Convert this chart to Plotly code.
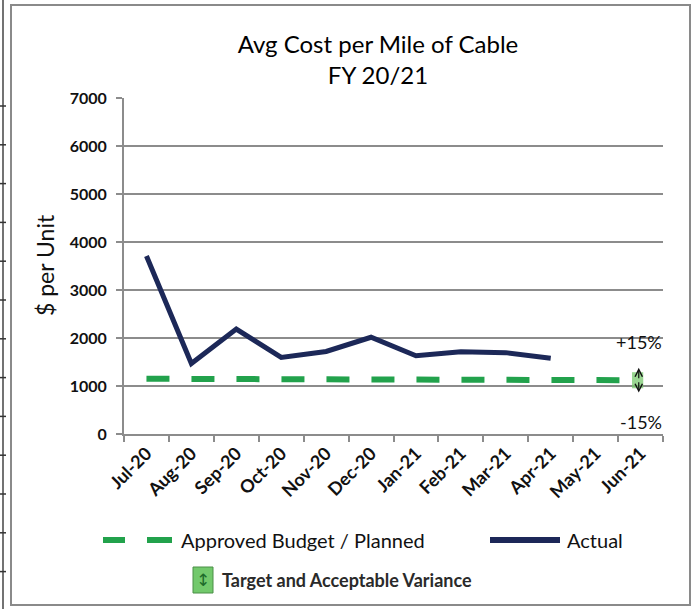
import plotly.graph_objects as go

# ---- data ----
months = ["Jul-20", "Aug-20", "Sep-20", "Oct-20", "Nov-20", "Dec-20",
          "Jan-21", "Feb-21", "Mar-21", "Apr-21", "May-21", "Jun-21"]
actual = [3710, 1470, 2185, 1595, 1720, 2015, 1630, 1715, 1695, 1580, None, None]
budget = [1150, 1150, 1150, 1145, 1145, 1140, 1140, 1135, 1130, 1125, 1120, 1120]
variance_pct = 0.15
y_ticks = [0, 1000, 2000, 3000, 4000, 5000, 6000, 7000]

GREEN = "#22a24c"
NAVY = "#1c2858"
GRID = "#8c8c8c"
FONT = "Lato"

W, H = 695, 609
L, R, T, B = 124, 32, 98, 175
PW, PH = W - L - R, H - T - B


def px(X):
    return (X - L) / PW


def py(Y):
    return (H - B - Y) / PH


def label(X, Y, text, size, xanchor="left", family=FONT, color="#111", angle=0):
    return dict(xref="paper", yref="paper", x=px(X), y=py(Y), text=text,
                showarrow=False, xanchor=xanchor, yanchor="middle",
                textangle=angle, font=dict(family=family, size=size, color=color))


fig = go.Figure()

fig.add_trace(go.Scatter(
    x=months, y=budget, mode="lines",
    line=dict(color=GREEN, width=6, dash="23px,22px"),
    name="Approved Budget / Planned", showlegend=False))

fig.add_trace(go.Scatter(
    x=months, y=actual, mode="lines",
    line=dict(color=NAVY, width=5),
    name="Actual", showlegend=False))

shapes = []
annotations = []

# target band (+/- 15%) at the last month
last = len(months) - 1
b_last = budget[last]
shapes.append(dict(type="rect", xref="x", yref="y",
                   x0=last - 0.19, x1=last + 0.06,
                   y0=b_last * (1 - variance_pct), y1=b_last * (1 + variance_pct),
                   fillcolor="rgba(120,200,110,0.75)", line=dict(width=0)))
for end in (b_last * (1 + variance_pct) + 90, b_last * (1 - variance_pct) - 90):
    annotations.append(dict(x=last - 0.04, y=end, xref="x", yref="y",
                            ax=last - 0.04, ay=b_last, axref="x", ayref="y",
                            text=" ", font=dict(size=1), showarrow=True,
                            arrowhead=5, arrowsize=1.2, arrowwidth=1.2,
                            arrowcolor="#111", standoff=0, startstandoff=0))

annotations.append(label(664, 342, "+15%", 18, xanchor="right"))
annotations.append(label(664, 422, "-15%", 18, xanchor="right"))

# y-axis title
annotations.append(label(45, 265, "$ per Unit", 23, xanchor="center", angle=-90))

# legend
shapes += [
    dict(type="line", xref="paper", yref="paper", x0=px(103), x1=px(125),
         y0=py(540), y1=py(540), line=dict(color=GREEN, width=6)),
    dict(type="line", xref="paper", yref="paper", x0=px(147), x1=px(172),
         y0=py(540), y1=py(540), line=dict(color=GREEN, width=6)),
    dict(type="line", xref="paper", yref="paper", x0=px(490), x1=px(560),
         y0=py(540), y1=py(540), line=dict(color=NAVY, width=6)),
    dict(type="rect", xref="paper", yref="paper", x0=px(193), x1=px(213),
         y0=py(593), y1=py(567), fillcolor="#72c96c",
         line=dict(color="#4a8f46", width=1)),
]
annotations += [
    label(179, 540, "Approved Budget / Planned", 20),
    label(565, 540, "Actual", 20),
    label(203, 580, "↕", 17, xanchor="center", family="DejaVu Sans", color="#1d6b2a"),
    label(220, 580, "<b>Target and Acceptable Variance</b>", 18, color="#2a2a2a"),
]

# outer frame and the neighbouring table edge
shapes.append(dict(type="rect", xref="paper", yref="paper",
                   x0=px(11), x1=px(690), y0=py(605), y1=py(5),
                   line=dict(color="#8a8a8a", width=2), layer="below"))
shapes.append(dict(type="line", xref="paper", yref="paper",
                   x0=px(3), x1=px(3), y0=py(609), y1=py(0),
                   line=dict(color="#444", width=1.5)))
for k in range(13):
    yy = 106 + 38.8 * k
    shapes.append(dict(type="line", xref="paper", yref="paper",
                       x0=px(0), x1=px(6), y0=py(yy), y1=py(yy),
                       line=dict(color="#333", width=1.5)))

fig.update_layout(
    width=W, height=H,
    margin=dict(l=L, r=R, t=T, b=B),
    paper_bgcolor="white", plot_bgcolor="white",
    title=dict(text="Avg Cost per Mile of Cable<br>FY 20/21",
               x=378 / W, xanchor="center", y=1 - 53 / H, yanchor="middle",
               font=dict(family=FONT, size=24, color="#000")),
    shapes=shapes, annotations=annotations,
    showlegend=False,
)

fig.update_xaxes(
    type="category", range=[-0.5, len(months) - 0.5],
    tickangle=-45, tickson="boundaries", ticks="outside", ticklen=6,
    tickcolor=GRID, tickwidth=1.5,
    showline=True, linecolor=GRID, linewidth=2, showgrid=False,
    tickfont=dict(family=FONT, size=18, color="#111", weight="bold"),
)
fig.update_yaxes(
    range=[0, 7000], tickvals=y_ticks,
    ticks="outside", ticklen=6, tickcolor=GRID, tickwidth=1.5,
    showline=True, linecolor=GRID, linewidth=2,
    showgrid=True, gridcolor=GRID, gridwidth=2, zeroline=False,
    tickfont=dict(family=FONT, size=16, color="#111", weight="bold"),
    ticklabelstandoff=6,
)

fig.write_html("out.html")
